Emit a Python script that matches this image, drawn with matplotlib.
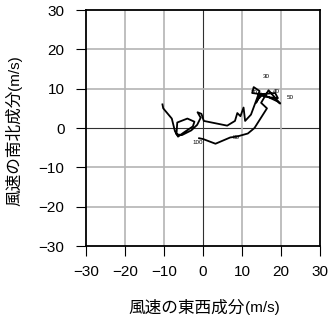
import numpy as np
import matplotlib.pyplot as plt

plt.rcParams['font.family'] = ['Liberation Sans', 'DejaVu Sans']
plt.rcParams['axes.unicode_minus'] = True

# hodograph (u, v) in m/s
u = [-10.4, -10.2, -8.0, -7.2, -6.4, -5.0, -2.6, -2.2, -4.0, -6.6, -6.8, -5.4, -3.0,
     -1.5, -0.6, -1.4, -0.4, 0.2, 6.2, 8.2, 8.8, 9.6, 10.4, 10.8, 12.3, 13.8,
     14.5, 13.0, 12.6, 14.8, 18.5, 19.2, 17.0, 15.0, 14.2, 13.6, 14.8, 19.0, 19.8,
     16.8, 14.9, 16.4, 13.2, 11.5, 8.6, 7.0, 3.2, 0.0, -1.0]
v = [6.0, 5.0, 2.4, -0.8, -2.2, -1.2, 0.4, 1.6, 2.4, 1.4, -1.6, -1.8, -0.6,
     0.8, 2.6, 4.0, 3.6, 1.8, 0.6, 1.8, 3.8, 3.0, 5.2, 1.8, 3.4, 7.4,
     9.4, 10.4, 8.9, 8.6, 8.9, 7.6, 7.8, 8.2, 7.4, 6.4, 8.8, 6.8, 6.2,
     9.6, 6.4, 5.0, 0.0, -1.4, -2.2, -2.4, -4.0, -2.8, -2.6]

# height labels
lab_txt = ['30', '40', '50', '70', '80', '100']
lab_u = [16.3, 18.9, 22.3, 13.0, 8.6, -1.4]
lab_v = [13.2, 9.4, 7.7, 8.9, -2.3, -3.6]

ticks = [-30, -20, -10, 0, 10, 20, 30]

fig = plt.figure(figsize=(3.32, 3.19), dpi=100)
ax = fig.add_axes([86 / 332, 73 / 319, 234 / 332, 236 / 319])

for t in ticks[1:-1]:
    c = '#303030' if t == 0 else '#b4b4b4'
    lw = 0.8 if t == 0 else 1.2
    ax.axvline(t, color=c, lw=lw, zorder=1)
    ax.axhline(t, color=c, lw=lw, zorder=1)

ax.plot(u, v, color='black', lw=1.3, zorder=3)
for s, x, y in zip(lab_txt, lab_u, lab_v):
    ax.text(x, y, s, fontsize=4.5, ha='center', va='center', zorder=4)

ax.set_xlim(-30, 30)
ax.set_ylim(-30, 30)
ax.set_xticks(ticks)
ax.set_yticks(ticks)
ax.tick_params(direction='out', length=7.5, width=0.8, labelsize=11)
ax.tick_params(axis='x', pad=6)
ax.tick_params(axis='y', pad=8)
for sp in ax.spines.values():
    sp.set_linewidth(1.3)

# axis titles: japanese part + (m/s) in latin font
fig.text(245 / 332, 11 / 319, '風速の東西成分', family=['Noto Sans CJK JP'],
         fontsize=12, ha='right', va='center')
fig.text(245 / 332, 11 / 319, '(m/s)', fontsize=11, ha='left', va='center')
fig.text(15 / 332, 1 - 90 / 319, '風速の南北成分', family=['Noto Sans CJK JP'],
         fontsize=12, rotation=90, ha='center', va='top')
fig.text(15 / 332, 1 - 90 / 319, '(m/s)', fontsize=11, rotation=90,
         ha='center', va='bottom')

fig.savefig('out.png', dpi=100)
